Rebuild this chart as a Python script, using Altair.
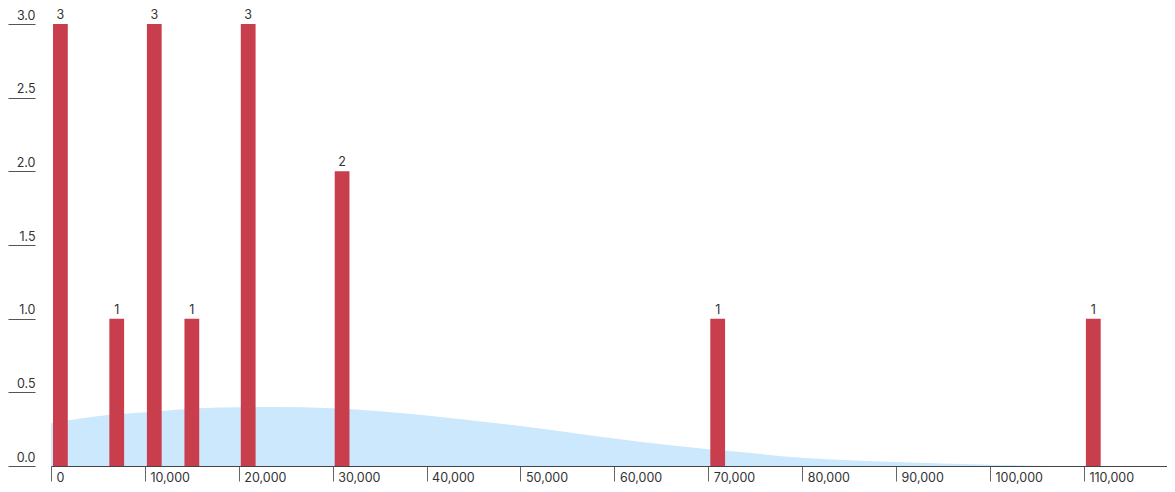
import altair as alt
import pandas as pd

# Histogram bins
bin_start = [0, 6000, 10000, 14000, 20000, 30000, 70000, 110000]
bin_end = [2000, 8000, 12000, 16000, 22000, 32000, 72000, 112000]
counts = [3, 1, 3, 1, 3, 2, 1, 1]

# Density curve
density_x = [0, 6300, 10200, 15900, 20100, 23600, 30000, 35000, 40000, 50000,
             60000, 70000, 72000, 80000, 90000, 100000, 107000]
density_y = [0.291, 0.348, 0.365, 0.392, 0.399, 0.401, 0.392, 0.372, 0.343, 0.271,
             0.186, 0.114, 0.103, 0.056, 0.027, 0.009, 0.0]

x_ticks = [0, 10000, 20000, 30000, 40000, 50000, 60000, 70000, 80000, 90000, 100000, 110000]
y_ticks = [0, 0.5, 1.0, 1.5, 2.0, 2.5, 3.0]

bars = pd.DataFrame({"start": bin_start, "end": bin_end, "count": counts})
bars["mid"] = (bars["start"] + bars["end"]) / 2
dens = pd.DataFrame({"x": density_x, "y": density_y})

FONT = "Inter"
xscale = alt.Scale(domain=[0, 118850], nice=False, zero=False, padding=0)
yscale = alt.Scale(domain=[0, 3], nice=False, padding=0)

xaxis = alt.Axis(values=x_ticks, format=",.0f", grid=False, title=None,
                 tickSize=15, tickColor="#666666", domainColor="#444444",
                 labelAlign="left", labelBaseline="alphabetic", labelPadding=0.5,
                 labelOffset=5, labelFlush=False, labelFont=FONT, labelFontSize=12.5,
                 labelColor="#333333", labelOverlap=False)
yaxis = alt.Axis(values=y_ticks, format=".1f", grid=False, title=None, domain=False,
                 offset=16, tickSize=27, tickColor="#555555",
                 labelAlign="right", labelBaseline="alphabetic", labelPadding=-27,
                 labelOffset=-5, labelFont=FONT, labelFontSize=12.5,
                 labelColor="#333333")

area = alt.Chart(dens).mark_area(color="#cce8fc", interpolate="monotone").encode(
    x=alt.X("x:Q", scale=xscale, axis=xaxis),
    y=alt.Y("y:Q", scale=yscale, axis=yaxis),
)

bar = alt.Chart(bars).mark_bar(color="#c83e4c", xOffset=2, x2Offset=-2,
                               orient="vertical").encode(
    x=alt.X("start:Q", scale=xscale),
    x2="end:Q",
    y=alt.Y("count:Q", scale=yscale),
    y2=alt.datum(0),
)

text = alt.Chart(bars).mark_text(baseline="alphabetic", dy=-5, font=FONT,
                                 fontSize=12.5, color="#333333").encode(
    x=alt.X("mid:Q", scale=xscale),
    y=alt.Y("count:Q", scale=yscale),
    text="count:Q",
)

chart = alt.layer(area, bar, text).properties(
    width=1116, height=442,
    autosize=alt.AutoSizeParams(type="none"),
    padding={"left": 43, "top": 16, "right": 0, "bottom": 18},
).configure_view(stroke=None)

chart.save("out.html", embed_options={"renderer": "svg", "actions": False})
